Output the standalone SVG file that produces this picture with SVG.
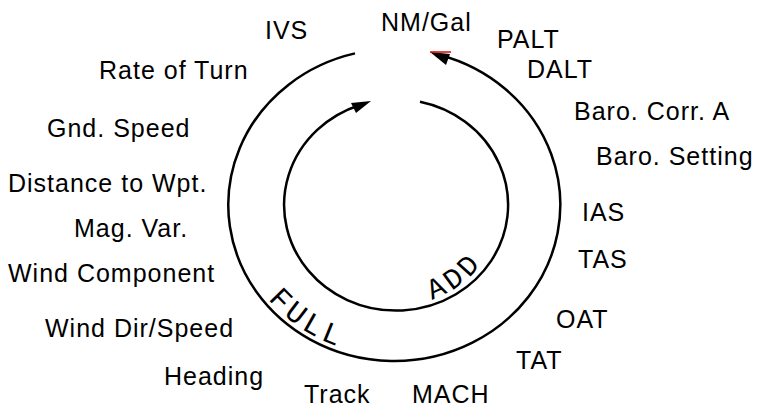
<svg xmlns="http://www.w3.org/2000/svg" width="757" height="411" viewBox="0 0 757 411">
<style>
.lbl{font-family:"Liberation Sans",Arial,sans-serif;font-size:25px;letter-spacing:1px;fill:#000}
.arc{fill:none;stroke:#000;stroke-width:2.5}
.mono{font-family:"Liberation Mono","Courier New",monospace;fill:#000}
</style>
<defs>
<path id="fullPath" d="M254.6,280.5 A161,151 0 0 0 474.5,335.8"/>
<path id="addPath" d="M412.6,304.6 A108,101.6 0 0 0 502,204.5"/>
</defs>
<rect width="757" height="411" fill="#fff"/>
<g id="connectors">
<path class="arc" d="M355,53.4 A166,156 0 1 0 440,55"/>
<polygon points="430,52 450,54 446,65" fill="#000"/>
<line x1="430" y1="52" x2="451" y2="52" stroke="#e00000" stroke-width="1.5"/>
<path class="arc" d="M420,101.8 A112,105.6 0 1 1 360,105"/>
<polygon points="371,101 351,103 356,113" fill="#000"/>
</g>
<g id="ring-labels">
<text class="mono" font-size="30" letter-spacing="4"><textPath href="#fullPath" startOffset="23">FULL</textPath></text>
<text class="mono" font-size="29" letter-spacing="4"><textPath href="#addPath" startOffset="20">ADD</textPath></text>
</g>
<g id="labels">
<g id="n-ivs"><text class="lbl" x="265" y="39">IVS</text></g>
<g id="n-nmgal"><text class="lbl" x="381" y="31">NM/Gal</text></g>
<g id="n-palt"><text class="lbl" x="497" y="48">PALT</text></g>
<g id="n-rot"><text class="lbl" x="99" y="79">Rate of Turn</text></g>
<g id="n-dalt"><text class="lbl" x="527" y="78">DALT</text></g>
<g id="n-baroa"><text class="lbl" x="574" y="120">Baro. Corr. A</text></g>
<g id="n-gnd"><text class="lbl" x="47" y="137">Gnd. Speed</text></g>
<g id="n-baros"><text class="lbl" x="596" y="165">Baro. Setting</text></g>
<g id="n-dist"><text class="lbl" x="8" y="192">Distance to Wpt.</text></g>
<g id="n-ias"><text class="lbl" x="582" y="221">IAS</text></g>
<g id="n-mag"><text class="lbl" x="74" y="237">Mag. Var.</text></g>
<g id="n-tas"><text class="lbl" x="578" y="268">TAS</text></g>
<g id="n-wc"><text class="lbl" x="8" y="282">Wind Component</text></g>
<g id="n-oat"><text class="lbl" x="556" y="328">OAT</text></g>
<g id="n-wds"><text class="lbl" x="45" y="337">Wind Dir/Speed</text></g>
<g id="n-tat"><text class="lbl" x="516" y="369">TAT</text></g>
<g id="n-hdg"><text class="lbl" x="164" y="385">Heading</text></g>
<g id="n-trk"><text class="lbl" x="304" y="403">Track</text></g>
<g id="n-mach"><text class="lbl" x="412" y="403">MACH</text></g>
</g>
</svg>
